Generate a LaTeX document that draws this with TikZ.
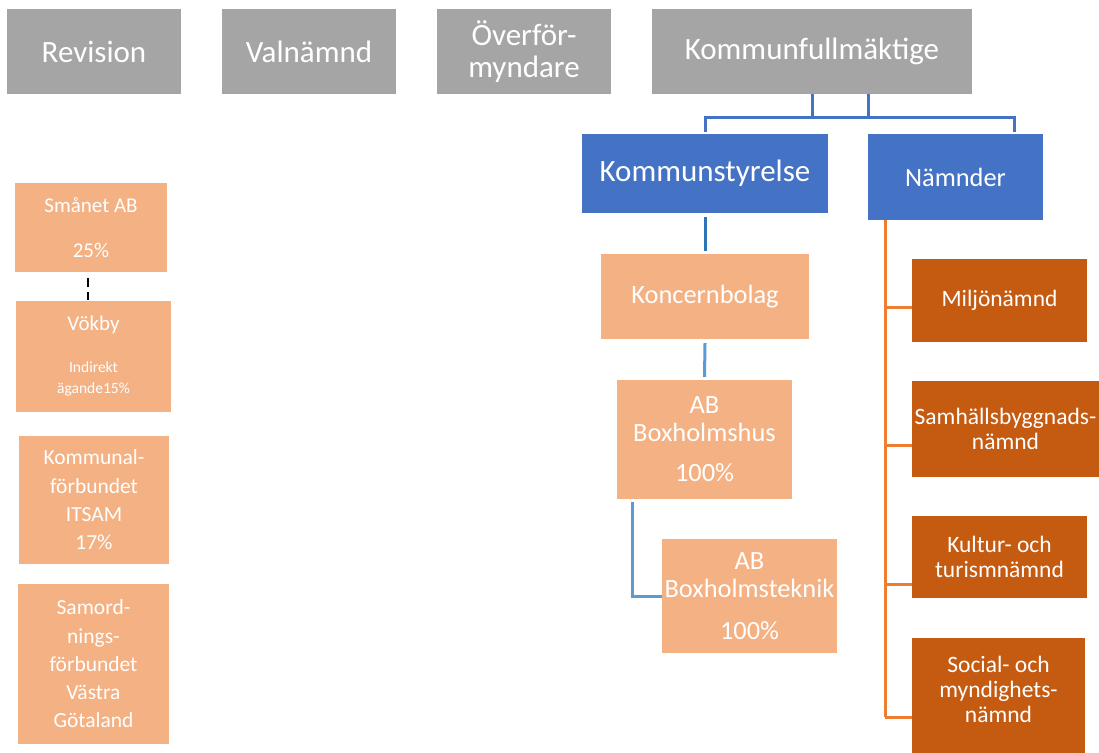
\documentclass[tikz,border=0pt]{standalone}
\usepackage{fontspec}
\setmainfont{Carlito}
\usetikzlibrary{calc}
\definecolor{gbox}{HTML}{A5A5A5}
\definecolor{bbox}{HTML}{4472C4}
\definecolor{lobox}{HTML}{F4B183}
\definecolor{dobox}{HTML}{C55A11}
\definecolor{oline}{HTML}{ED7D31}
\definecolor{bline}{HTML}{5B9BD5}
\definecolor{dbline}{HTML}{2E75B6}
\tikzset{
  basebox/.style={rectangle, inner sep=0pt, text=white, align=center},
  graybox/.style={basebox, fill=gbox, font=\fontsize{31}{32}\selectfont},
  bluebox/.style={basebox, fill=bbox},
  libox/.style={basebox, fill=lobox},
  dobx/.style={basebox, fill=dobox, font=\fontsize{23.5}{25}\selectfont},
  leftbox/.style={libox, font=\fontsize{21.5}{28.3}\selectfont},
  bconn/.style={draw=bbox, line width=3pt},
  oconn/.style={draw=oline, line width=3pt},
}
\begin{document}
\begin{tikzpicture}[x=1pt,y=-1pt]
\useasboundingbox (0,0) rectangle (1099,752);
\clip (0,0) rectangle (1099,752);
% top row
\node[graybox, minimum width=174, minimum height=85] (rev) at (94,51.5) {Revision};
\node[graybox, minimum width=174, minimum height=85] (val) at (309,51.5) {Valnämnd};
\node[graybox, minimum width=174, minimum height=85] (over) at (524,51.5) {Överför-\\myndare};
\node[graybox, minimum width=320, minimum height=85] (kf) at (812,51.5) {Kommunfullmäktige};
% second row
\node[bluebox, minimum width=246, minimum height=79, font=\fontsize{31}{32}\selectfont] (ks) at (705,173.5) {Kommunstyrelse};
\node[bluebox, minimum width=175, minimum height=86, font=\fontsize{26.4}{28}\selectfont] (nam) at (955.5,177) {Nämnder};
% bolag
\node[libox, minimum width=208, minimum height=85, font=\fontsize{26.4}{28}\selectfont] (kon) at (705,296.5) {Koncernbolag\vphantom{K}};
\node[libox, minimum width=175, minimum height=119, font=\fontsize{26.4}{28}\selectfont] (bhus) at (704.5,439.5) {AB\\Boxholmshus\\[12pt]100\%};
\node[libox, minimum width=175, minimum height=114, font=\fontsize{26.4}{28}\selectfont] (btek) at (749.5,596) {AB\\Boxholmsteknik\\[14pt]100\%};
% nämnder
\node[dobx, minimum width=175, minimum height=83] (milj) at (999.5,300.5) {Miljönämnd};
\node[dobx, minimum width=187, minimum height=96] (samh) at (1005.5,429) {Samhällsbyggnads-\\nämnd};
\node[dobx, minimum width=175, minimum height=82] (kult) at (999.5,557) {Kultur- och\\turismnämnd};
\node[dobx, minimum width=173, minimum height=124] (soc) at (998.5,700) {};
\node[basebox, font=\fontsize{23.5}{25}\selectfont] (soct) at (998.5,689) {Social- och\\myndighets-\\nämnd};
% left column
\node[libox, minimum width=152, minimum height=89, font=\fontsize{21}{28}\selectfont] (sma) at (91,227.5) {\vphantom{g}Smånet AB\\[17pt]25\%};
\node[libox, minimum width=155, minimum height=111, font=\fontsize{15.5}{21}\selectfont] (vok) at (93.5,356.5) {{\fontsize{21}{21}\selectfont Vökby}\\[21pt]Indirekt\\ägande15\%};
\node[leftbox, minimum width=150, minimum height=128] (kom) at (94,500) {Kommunal-\\förbundet\\ITSAM\\17\%};
\node[leftbox, minimum width=151, minimum height=160] (sam) at (93.5,664) {Samord-\\nings-\\förbundet\\Västra\\Götaland};
% connectors top
\coordinate (j1) at (812,117);
\coordinate (j2) at (868,117);
\draw[bconn] (kf.south -| j1) -- (j1);
\draw[bconn] (kf.south -| j2) -- (j2);
\draw[bconn] ([yshift=2pt]ks.north) |- (j1) -- (j2) -| ([xshift=-29pt,yshift=2pt]nam.north east);
% bolag connectors
\draw[draw=dbline, line width=3pt] ([yshift=-4pt]ks.south) -- ([yshift=3pt]kon.north);
\draw[draw=bline, line width=3pt] ([yshift=-4pt]kon.south) -- ([yshift=3pt]bhus.north);
\draw[draw=bline, line width=3pt] ([xshift=16pt,yshift=-3pt]bhus.south west) |- (btek.west);
% nämnder tree
\coordinate (tr) at (885,223);
\coordinate (t1) at (885,307);
\coordinate (t2) at (885,445);
\coordinate (t3) at (885,584);
\coordinate (t4) at (885,717);
\draw[oconn] (nam.south -| tr) -- (t4);
\draw[oconn] (t1) -- (t1 -| milj.west);
\draw[oconn] (t2) -- (t2 -| samh.west);
\draw[oconn] (t3) -- (t3 -| kult.west);
\draw[oconn] (t4) -- (t4 -| soc.west);
% dashed link
\draw[line width=2pt, dash pattern=on 9pt off 5pt] ([xshift=-3pt,yshift=-6pt]sma.south) -- ([xshift=-5.5pt,yshift=1pt]vok.north);
\end{tikzpicture}
\end{document}
